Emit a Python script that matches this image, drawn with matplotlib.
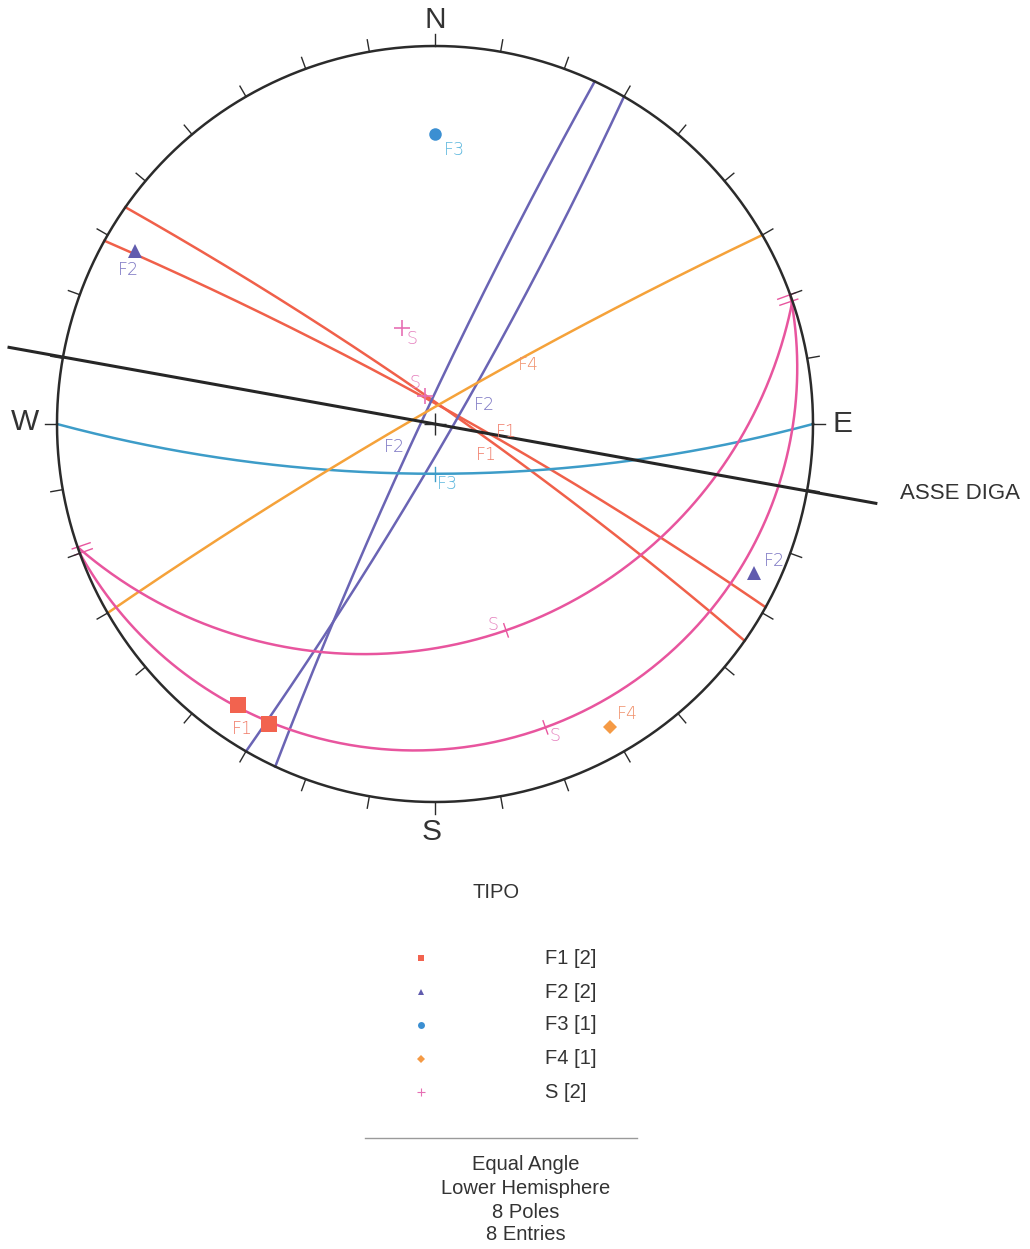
import numpy as np
import matplotlib.pyplot as plt

# one entry per measured plane: family, dip direction, dip (degrees)
families = ["F1", "F1", "F2", "F2", "F3", "F4", "S", "S"]
dip_dir = [35, 29, 295, 120, 180, 330, 161, 160]
dip = [84.5, 84.5, 86, 85, 75, 85.5, 30, 9]

legend_names = ["F1", "F2", "F3", "F4", "S"]
axis_trend = 100.2  # dam axis (ASSE DIGA)

line_col = {"F1": "#f0604a", "F2": "#6a64b4", "F3": "#3d9cc8", "F4": "#f5a23a", "S": "#e8559e"}
pole_col = {"F1": "#f2634f", "F2": "#615cae", "F3": "#3b8fd2", "F4": "#f59a45", "S": "#e66fb4"}
text_col = {"F1": "#f07a66", "F2": "#7a74c2", "F3": "#5ab6dd", "F4": "#f0906a", "S": "#e57fbd"}
pole_mark = {"F1": ("s", 11), "F2": ("^", 10), "F3": ("o", 9), "F4": ("D", 7), "S": ("+", 11)}
leg_mark = {"F1": ("s", 5), "F2": ("^", 4.5), "F3": ("o", 5), "F4": ("D", 3.8), "S": ("+", 6)}

# label placement (layout only)
plane_lab = [(0.190, -0.021), (0.135, -0.082), (-0.106, -0.061), (0.130, 0.050),
             (0.032, -0.159), (0.246, 0.156), (0.153, -0.532), (0.317, -0.825)]
pole_lab = [None, (-26, 5), (20, -12), (-7, 19), (19, 16), (18, -13), (10, 11), (-10, -13)]

W, H = 1030, 1249
CX, CY, R = 435, 424, 378


def fx(p):
    return p / W


def fy(p):
    return 1 - p / H


def great_circle(dd, dp, n=400):
    t = np.radians(np.linspace(0, 180, n))
    a, d = np.radians(dd), np.radians(dp)
    s = np.array([np.sin(a - np.pi / 2), np.cos(a - np.pi / 2), 0.0])
    v = np.array([np.sin(a) * np.cos(d), np.cos(a) * np.cos(d), np.sin(d)])
    p = np.outer(np.cos(t), s) + np.outer(np.sin(t), v)
    return p[:, 0] / (1 + p[:, 2]), p[:, 1] / (1 + p[:, 2])


def proj(trend, plunge):
    tr, pl = np.radians(trend), np.radians(plunge)
    r = np.tan(np.pi / 4 - pl / 2)
    return r * np.sin(tr), r * np.cos(tr)


fig = plt.figure(figsize=(W / 100, H / 100), dpi=100)
ax = fig.add_axes([0, 0, 1, 1])
ax.set_xlim(-CX / R, (W - CX) / R)
ax.set_ylim(-(H - CY) / R, CY / R)
ax.axis("off")

# primitive circle and 10 degree ticks
th = np.linspace(0, 2 * np.pi, 721)
ax.plot(np.cos(th), np.sin(th), color="#2b2b2b", lw=1.8, zorder=5)
for az in range(0, 360, 10):
    a = np.radians(az)
    ax.plot([np.sin(a), 1.032 * np.sin(a)], [np.cos(a), 1.032 * np.cos(a)],
            color="#2b2b2b", lw=1.0, zorder=5)
ax.plot(0, 0, marker="+", ms=16, mew=1.0, color="#2b2b2b", zorder=5)

for lab, x, y in [("N", 0, 1.069), ("S", -0.008, -1.079), ("W", -1.085, 0.005), ("E", 1.077, 0)]:
    ax.text(x, y, lab, fontsize=21.5, family="Liberation Sans", color="#333333",
            ha="center", va="center")

# dam axis
a = np.radians(axis_trend)
ax.plot([-1.145 * np.sin(a), 1.185 * np.sin(a)], [-1.145 * np.cos(a), 1.185 * np.cos(a)],
        color="#262626", lw=2.2, zorder=4)
ax.text(1.230, -0.185, "ASSE DIGA", fontsize=16, family="Liberation Sans",
        color="#333333", ha="left", va="center")

# great circles
for i, fam in enumerate(families):
    x, y = great_circle(dip_dir[i], dip[i])
    ax.plot(x, y, color=line_col[fam], lw=1.8, zorder=3)
    a = np.radians(dip_dir[i])
    ux, uy = np.sin(a), np.cos(a)
    if dip[i] < 80:
        px, py = proj(dip_dir[i], dip[i])
        L = 7 / R
        ax.plot([px - L * ux, px + L * ux], [py - L * uy, py + L * uy],
                color=line_col[fam], lw=1.0, zorder=3)
    if fam == "S":
        for sgn in (1, -1):
            ex, ey = sgn * uy, -sgn * ux  # strike ends on the primitive
            ax.plot([0.965 * ex, 1.015 * ex], [0.965 * ey, 1.015 * ey],
                    color=line_col[fam], lw=1.0, zorder=3)
    lx, ly = plane_lab[i]
    ax.text(lx, ly, fam, fontsize=12.5, family="DejaVu Sans", fontweight="light",
            color=text_col[fam], ha="center", va="center", zorder=6)

# poles
for i, fam in enumerate(families):
    px, py = proj(dip_dir[i] + 180, 90 - dip[i])
    m, ms = pole_mark[fam]
    ax.plot(px, py, marker=m, ms=ms, color=pole_col[fam], mew=1.2 if m == "+" else 0,
            zorder=7)
    if pole_lab[i] is not None:
        dx, dy = pole_lab[i]
        ax.annotate(fam, (px, py), xytext=(dx * 0.72, -dy * 0.72), textcoords="offset points",
                    fontsize=12.5, family="DejaVu Sans", fontweight="light",
                    color=text_col[fam], ha="center", va="center", zorder=8)

# legend
txt = dict(family="Liberation Sans", color="#333333", fontsize=14.5)
fig.text(fx(496), fy(893), "TIPO", ha="center", va="center", **txt)
rows = [958, 992, 1025, 1059, 1092]
for name, yy in zip(legend_names, rows):
    m, ms = leg_mark[name]
    fig.add_artist(plt.Line2D([fx(421)], [fy(yy)], marker=m, ms=ms, color=pole_col[name],
                              mew=0.8 if m == "+" else 0, transform=fig.transFigure))
    fig.text(fx(545), fy(yy), f"{name} [{families.count(name)}]", ha="left", va="center", **txt)

fig.add_artist(plt.Line2D([fx(365), fx(637)], [fy(1138), fy(1138)], color="#9a9a9a", lw=1.0,
                          transform=fig.transFigure))
info = ["Equal Angle", "Lower Hemisphere", f"{len(families)} Poles", f"{len(families)} Entries"]
for s, yy in zip(info, [1165, 1189, 1212, 1235]):
    fig.text(fx(526), fy(yy), s, ha="center", va="center", **txt)

fig.savefig("out.png", dpi=100, facecolor="white")
